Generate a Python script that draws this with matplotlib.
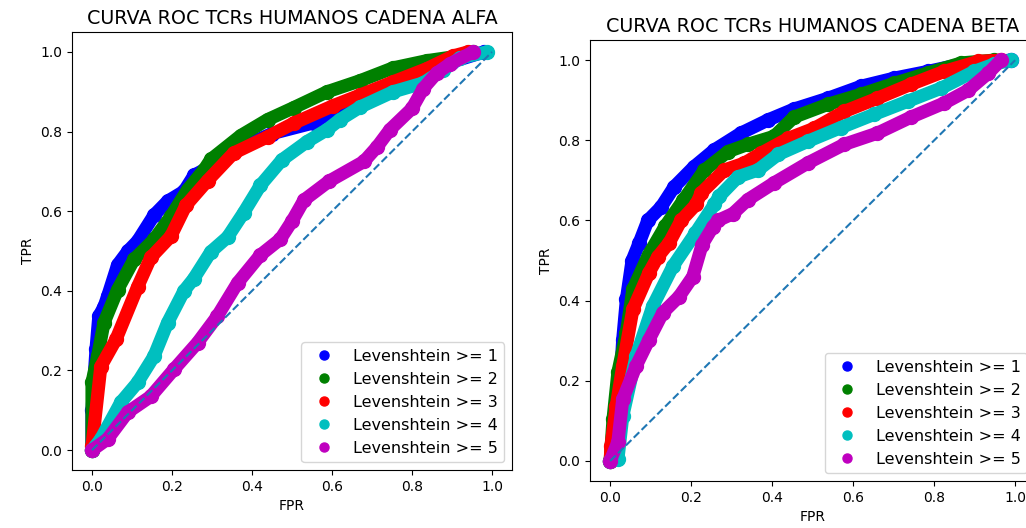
import matplotlib.pyplot as plt

labels = ["Levenshtein >= 1", "Levenshtein >= 2", "Levenshtein >= 3",
          "Levenshtein >= 4", "Levenshtein >= 5"]
colors = ["b", "g", "r", "c", "m"]

# ALFA chain ROC curves (FPR, TPR)
alfa_fpr_1 = [0, 0.0, 0.01, 0.017, 0.03, 0.039, 0.064, 0.09, 0.114, 0.155, 0.189, 0.23, 0.255,
              0.3, 0.36, 0.45, 0.554, 0.6, 0.7, 0.8, 0.9, 0.98]
alfa_tpr_1 = [0, 0.10, 0.253, 0.336, 0.36, 0.386, 0.465, 0.50, 0.525, 0.59, 0.625, 0.65, 0.69,
              0.715, 0.755, 0.795, 0.822, 0.85, 0.895, 0.945, 0.975, 1.0]
alfa_fpr_2 = [0, 0.0, 0.014, 0.03, 0.064, 0.105, 0.155, 0.197, 0.239, 0.28, 0.297, 0.372, 0.439,
              0.504, 0.588, 0.671, 0.753, 0.837, 0.92, 0.953]
alfa_tpr_2 = [0, 0.17, 0.236, 0.32, 0.403, 0.479, 0.529, 0.587, 0.654, 0.704, 0.73, 0.79, 0.83,
              0.86, 0.9, 0.928, 0.96, 0.978, 0.99, 1.0]
alfa_fpr_3 = [0, 0.0, 0.022, 0.06, 0.114, 0.147, 0.197, 0.235, 0.289, 0.354, 0.439, 0.504, 0.603,
              0.671, 0.753, 0.837, 0.903, 0.94]
alfa_tpr_3 = [0, 0.01, 0.21, 0.278, 0.41, 0.484, 0.537, 0.615, 0.677, 0.746, 0.787, 0.821, 0.865,
              0.892, 0.925, 0.958, 0.99, 1.0]
alfa_fpr_4 = [0, 0.022, 0.072, 0.114, 0.155, 0.189, 0.23, 0.254, 0.297, 0.339, 0.379, 0.421,
              0.475, 0.538, 0.588, 0.62, 0.671, 0.753, 0.828, 0.878, 0.92, 0.987]
alfa_tpr_4 = [0, 0.028, 0.12, 0.17, 0.236, 0.32, 0.40, 0.43, 0.498, 0.535, 0.596, 0.665, 0.729,
              0.775, 0.805, 0.83, 0.862, 0.9, 0.922, 0.955, 0.985, 1.0]
alfa_fpr_5 = [0, 0.039, 0.089, 0.147, 0.205, 0.264, 0.313, 0.364, 0.421, 0.471, 0.5, 0.53,
              0.592, 0.68, 0.713, 0.745, 0.8, 0.828, 0.862, 0.895, 0.953]
alfa_tpr_5 = [0, 0.028, 0.095, 0.135, 0.203, 0.27, 0.336, 0.42, 0.49, 0.53, 0.575, 0.628,
              0.675, 0.725, 0.762, 0.805, 0.858, 0.908, 0.947, 0.97, 1.0]

# BETA chain ROC curves (FPR, TPR)
beta_fpr_1 = [0, 0.007, 0.022, 0.031, 0.04, 0.054, 0.072, 0.093, 0.126, 0.158, 0.207, 0.257,
              0.323, 0.39, 0.454, 0.538, 0.62, 0.701, 0.785, 0.867, 0.99]
beta_tpr_1 = [0, 0.038, 0.154, 0.303, 0.403, 0.5, 0.545, 0.60, 0.634, 0.684, 0.734, 0.776,
              0.818, 0.851, 0.878, 0.905, 0.935, 0.955, 0.972, 0.99, 1.0]
beta_fpr_2 = [0, 0.007, 0.019, 0.04, 0.056, 0.095, 0.136, 0.18, 0.232, 0.291, 0.34, 0.405, 0.454,
              0.538, 0.62, 0.701, 0.785, 0.867, 0.948]
beta_tpr_2 = [0, 0.104, 0.221, 0.32, 0.428, 0.515, 0.586, 0.65, 0.725, 0.772, 0.79, 0.81, 0.858,
              0.89, 0.915, 0.942, 0.968, 0.993, 1.0]
beta_fpr_3 = [0, 0.002, 0.015, 0.031, 0.056, 0.096, 0.118, 0.146, 0.175, 0.212, 0.225, 0.282,
              0.331, 0.373, 0.44, 0.504, 0.578, 0.66, 0.743, 0.825, 0.909, 0.965]
beta_tpr_3 = [0, 0.038, 0.137, 0.237, 0.378, 0.47, 0.51, 0.545, 0.6, 0.64, 0.669, 0.726,
              0.743, 0.768, 0.805, 0.83, 0.872, 0.905, 0.94, 0.972, 0.997, 1.0]
beta_fpr_4 = [0, 0.019, 0.031, 0.064, 0.105, 0.155, 0.21, 0.257, 0.269, 0.316, 0.365, 0.415,
              0.489, 0.57, 0.652, 0.736, 0.817, 0.899, 0.948, 0.99]
beta_tpr_4 = [0, 0.005, 0.112, 0.261, 0.386, 0.486, 0.568, 0.64, 0.66, 0.709, 0.726, 0.765,
              0.798, 0.832, 0.865, 0.898, 0.93, 0.972, 0.99, 1.0]
beta_fpr_5 = [0, 0.019, 0.031, 0.064, 0.096, 0.13, 0.17, 0.204, 0.227, 0.254, 0.266, 0.303,
              0.34, 0.405, 0.489, 0.578, 0.66, 0.743, 0.825, 0.884, 0.933, 0.965]
beta_tpr_5 = [0, 0.047, 0.154, 0.237, 0.303, 0.37, 0.41, 0.46, 0.54, 0.585, 0.6, 0.617,
              0.652, 0.694, 0.744, 0.79, 0.818, 0.858, 0.893, 0.925, 0.967, 1.0]

diag = [0, 1]

alfa = [(alfa_fpr_1, alfa_tpr_1), (alfa_fpr_2, alfa_tpr_2), (alfa_fpr_3, alfa_tpr_3),
        (alfa_fpr_4, alfa_tpr_4), (alfa_fpr_5, alfa_tpr_5)]
beta = [(beta_fpr_1, beta_tpr_1), (beta_fpr_2, beta_tpr_2), (beta_fpr_3, beta_tpr_3),
        (beta_fpr_4, beta_tpr_4), (beta_fpr_5, beta_tpr_5)]

fig = plt.figure(figsize=(10.26, 5.28), dpi=100)
ax1 = fig.add_axes([0.0702, 0.1098, 0.4288, 0.8295])
ax2 = fig.add_axes([0.575, 0.089, 0.4342, 0.835])


def draw(ax, curves, title):
    for (fpr, tpr), c, lbl in zip(curves, colors, labels):
        ax.plot(fpr, tpr, color=c, lw=9.5, solid_capstyle="round", solid_joinstyle="round")
        ax.plot(fpr, tpr, "o", color=c, ms=10, label=lbl)
    ax.plot(diag, diag, "--", color="#1f77b4", lw=1.5)
    ax.set_xlim(-0.05, 1.05)
    ax.set_ylim(-0.05, 1.05)
    ax.set_title(title, fontsize=13.8)
    ax.set_xlabel("FPR")
    ax.set_ylabel("TPR")
    ax.legend(loc="lower right", markerscale=0.65, numpoints=1, fontsize=11.5)


draw(ax1, alfa, "CURVA ROC TCRs HUMANOS CADENA ALFA")
draw(ax2, beta, "CURVA ROC TCRs HUMANOS CADENA BETA")

fig.savefig("out.png", dpi=100)
